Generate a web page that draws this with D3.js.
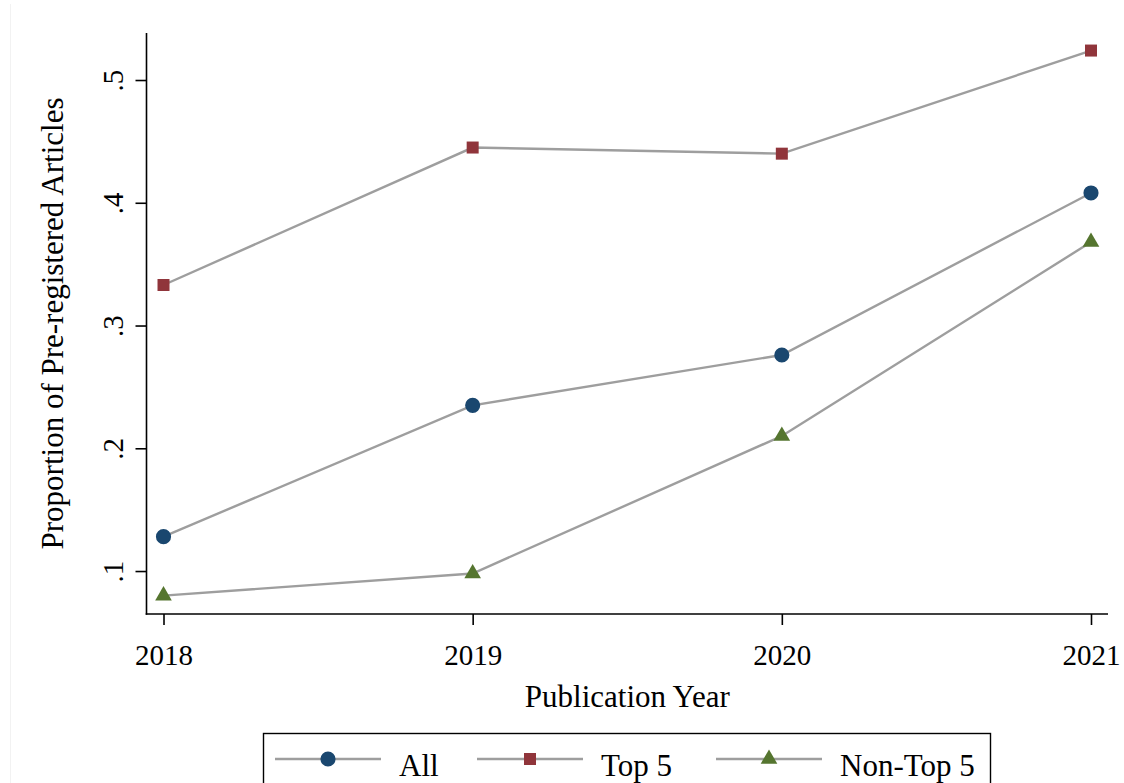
<!DOCTYPE html>
<html>
<head>
<meta charset="utf-8">
<script src="https://cdn.jsdelivr.net/npm/d3@7"></script>
<style>
  html, body { margin: 0; padding: 0; background: #fff; }
  svg { display: block; }
  text { font-family: "Liberation Serif", "DejaVu Serif", serif; fill: #000; }
</style>
</head>
<body>
<svg id="chart" width="1124" height="783"></svg>
<script>
// Publication years on the x axis
const years = [2018, 2019, 2020, 2021];

// Proportion of pre-registered articles per group
const allValues    = [0.128, 0.235, 0.276, 0.408];
const top5Values   = [0.333, 0.445, 0.440, 0.524];
const nonTop5Values = [0.080, 0.098, 0.210, 0.368];

// Axis tick values and their labels
const yTicks = [0.1, 0.2, 0.3, 0.4, 0.5];
const yTickLabels = [".1", ".2", ".3", ".4", ".5"];

const seriesNames = ["All", "Top 5", "Non-Top 5"];
const seriesColors = ["#1a476f", "#90353b", "#55752f"];
const seriesShapes = [d3.symbolCircle, d3.symbolSquare, d3.symbolTriangle];
const seriesSizes = [180, 144, 120];

const series = [allValues, top5Values, nonTop5Values].map((vals, i) => ({
  name: seriesNames[i],
  color: seriesColors[i],
  shape: seriesShapes[i],
  size: seriesSizes[i],
  points: years.map((y, j) => ({ year: y, value: vals[j] }))
}));

const tickFont = 29;
const titleFont = 31;

const svg = d3.select("#chart");

// faint frame edge on the left
svg.append("line")
  .attr("x1", 10.5).attr("x2", 10.5).attr("y1", 4).attr("y2", 783)
  .attr("stroke", "#f2f2f2").attr("stroke-width", 1);

const plot = { left: 146.5, right: 1108, top: 33, bottom: 614 };

const x = d3.scaleLinear()
  .domain([2017.945, 2021.055])
  .range([plot.left, plot.right]);

const y = d3.scaleLinear()
  .domain([0.0650, 0.5383])
  .range([plot.bottom, plot.top]);

// Y axis
const yAxis = d3.axisLeft(y)
  .tickValues(yTicks)
  .tickFormat((d, i) => yTickLabels[i])
  .tickSize(11)
  .tickSizeOuter(0);

const gy = svg.append("g")
  .attr("transform", `translate(${plot.left},0)`)
  .call(yAxis);
gy.select(".domain").attr("stroke", "#000").attr("stroke-width", 1.6)
  .attr("d", `M0,${plot.top}V${plot.bottom + 0.8}`);
gy.selectAll(".tick line").attr("stroke", "#000").attr("stroke-width", 1.6);
gy.selectAll(".tick text")
  .attr("font-size", tickFont)
  .attr("x", 0).attr("y", 0).attr("dy", 0)
  .attr("text-anchor", "middle")
  .attr("transform", "translate(-24,0) rotate(-90)");

// X axis
const xAxis = d3.axisBottom(x)
  .tickValues(years)
  .tickFormat(d3.format("d"))
  .tickSize(11)
  .tickSizeOuter(0);

const gx = svg.append("g")
  .attr("transform", `translate(0,${plot.bottom})`)
  .call(xAxis);
gx.select(".domain").attr("stroke", "#000").attr("stroke-width", 1.6)
  .attr("d", `M${plot.left - 0.8},0H${plot.right}`);
gx.selectAll(".tick line").attr("stroke", "#000").attr("stroke-width", 1.6);
gx.selectAll(".tick text")
  .attr("font-size", tickFont)
  .attr("y", 51).attr("dy", 0);

// Axis titles
svg.append("text")
  .attr("x", (plot.left + plot.right) / 2)
  .attr("y", 707)
  .attr("text-anchor", "middle")
  .attr("font-size", titleFont)
  .text("Publication Year");

svg.append("text")
  .attr("transform", `translate(63,${(plot.top + plot.bottom) / 2}) rotate(-90)`)
  .attr("text-anchor", "middle")
  .attr("font-size", titleFont)
  .text("Proportion of Pre-registered Articles");

// Lines and markers
const line = d3.line().x(d => x(d.year)).y(d => y(d.value));

const gSeries = svg.append("g");
series.forEach(s => {
  gSeries.append("path")
    .datum(s.points)
    .attr("d", line)
    .attr("fill", "none")
    .attr("stroke", "#9e9e9e")
    .attr("stroke-width", 2.4);
});
series.forEach(s => {
  gSeries.selectAll(null)
    .data(s.points)
    .join("path")
    .attr("transform", d => `translate(${x(d.year)},${y(d.value)})`)
    .attr("d", d3.symbol().type(s.shape).size(s.size))
    .attr("fill", s.color);
});

// Legend
const legend = svg.append("g");
legend.append("rect")
  .attr("x", 263.5).attr("y", 733.5)
  .attr("width", 727).attr("height", 80)
  .attr("fill", "#fff").attr("stroke", "#000").attr("stroke-width", 1.4);

const legendX = [275, 477, 716];
const legendY = 759;
series.forEach((s, i) => {
  const g = legend.append("g").attr("transform", `translate(${legendX[i]},${legendY})`);
  g.append("line")
    .attr("x1", 0).attr("x2", 106).attr("y1", 0).attr("y2", 0)
    .attr("stroke", "#9e9e9e").attr("stroke-width", 2.4);
  g.append("path")
    .attr("transform", "translate(53,0)")
    .attr("d", d3.symbol().type(s.shape).size(s.size))
    .attr("fill", s.color);
  g.append("text")
    .attr("x", 124).attr("y", 17)
    .attr("font-size", titleFont)
    .text(s.name);
});
</script>
</body>
</html>
